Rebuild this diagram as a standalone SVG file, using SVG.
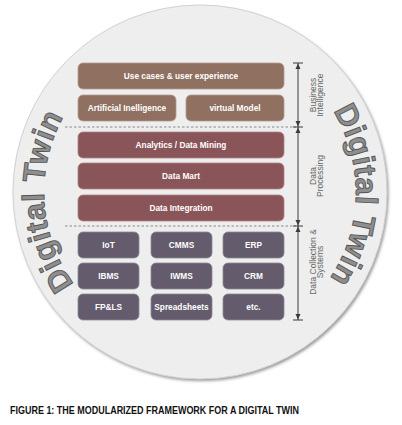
<svg xmlns="http://www.w3.org/2000/svg" width="402" height="425" viewBox="0 0 402 425">
  <defs>
    <style>
      .bi { fill: #8f7061; stroke: #b39c90; stroke-width: 0.8; }
      .dp { fill: #8a5558; stroke: #ad8486; stroke-width: 0.8; }
      .dc { fill: #645b6c; stroke: #8e8795; stroke-width: 0.8; }
      .bt { font-family: "Liberation Sans", Arial, sans-serif; font-weight: bold; font-size: 8.3px; fill: #ffffff; text-anchor: middle; }
      .side { font-family: "Liberation Sans", Arial, sans-serif; font-size: 8.5px; fill: #666666; text-anchor: middle; }
      .dt { font-family: "Liberation Sans", Arial, sans-serif; font-weight: bold; font-size: 31px; fill: #8e8e8e; stroke: #555555; stroke-width: 0.9; letter-spacing: 0.5px; }
      .dash { stroke: #8a8a8a; stroke-width: 1; stroke-dasharray: 2.5 2; fill: none; }
      .dim { stroke: #3a3a3a; stroke-width: 1; fill: none; }
      .ah { fill: #3a3a3a; }
      .cap { font-family: "Liberation Sans", Arial, sans-serif; font-weight: bold; font-size: 10.5px; fill: #111111; }
    </style>
    <filter id="sh" x="-10%" y="-10%" width="120%" height="120%">
      <feGaussianBlur stdDeviation="1.5"/>
    </filter>
    <path id="leftArc" d="M122,327.1 A156,156 0 0 1 122,56.9"/>
    <path id="rightArc" d="M278,56.9 A156,156 0 0 1 278,327.1"/>
  </defs>

  <rect width="402" height="425" fill="#ffffff"/>

  <g id="circle">
    <circle cx="201.5" cy="194" r="187" fill="#9a9a9a" filter="url(#sh)"/>
    <circle cx="200" cy="192" r="187" fill="#eeeeee" stroke="#d2d2d2" stroke-width="1"/>
  </g>

  <g id="digital-twin-left">
    <text class="dt"><textPath href="#leftArc" startOffset="47%" text-anchor="middle">Digital Twin</textPath></text>
  </g>
  <g id="digital-twin-right">
    <text class="dt"><textPath href="#rightArc" startOffset="51%" text-anchor="middle">Digital Twin</textPath></text>
  </g>

  <g id="connectors">
    <line class="dash" x1="65" y1="127" x2="296" y2="127"/>
    <line class="dash" x1="65" y1="226" x2="296" y2="226"/>
    <line class="dim" x1="298" y1="63" x2="298" y2="320"/>
    <line class="dim" x1="293" y1="63" x2="303" y2="63"/>
    <line class="dim" x1="293" y1="127" x2="303" y2="127"/>
    <line class="dim" x1="293" y1="226" x2="303" y2="226"/>
    <line class="dim" x1="293" y1="320" x2="303" y2="320"/>
    <path class="ah" d="M298,63.5 L295.5,69 L300.5,69 Z"/>
    <path class="ah" d="M298,126.5 L295.5,121 L300.5,121 Z"/>
    <path class="ah" d="M298,127.5 L295.5,133 L300.5,133 Z"/>
    <path class="ah" d="M298,225.5 L295.5,220 L300.5,220 Z"/>
    <path class="ah" d="M298,226.5 L295.5,232 L300.5,232 Z"/>
    <path class="ah" d="M298,319.5 L295.5,314 L300.5,314 Z"/>
  </g>

  <g id="label-bi">
    <text class="side" transform="translate(315.5,95) rotate(-90)">Business</text>
    <text class="side" transform="translate(323,95) rotate(-90)">Intelligence</text>
  </g>
  <g id="label-dp">
    <text class="side" transform="translate(315.5,176) rotate(-90)">Data</text>
    <text class="side" transform="translate(323,176) rotate(-90)">Processing</text>
  </g>
  <g id="label-dc">
    <text class="side" transform="translate(315.5,262) rotate(-90)">Data Collection &amp;</text>
    <text class="side" transform="translate(323,262) rotate(-90)">Systems</text>
  </g>

  <g id="use-cases">
    <rect class="bi" x="78" y="63" width="206" height="26" rx="5"/>
    <text class="bt" x="181" y="79">Use cases &amp; user experience</text>
  </g>
  <g id="ai">
    <rect class="bi" x="78" y="95" width="98" height="26" rx="5"/>
    <text class="bt" x="127" y="111">Artificial Inelligence</text>
  </g>
  <g id="virtual-model">
    <rect class="bi" x="186" y="95" width="98" height="26" rx="5"/>
    <text class="bt" x="235" y="111">virtual Model</text>
  </g>

  <g id="analytics">
    <rect class="dp" x="78" y="132" width="206" height="26" rx="5"/>
    <text class="bt" x="181" y="148">Analytics / Data Mining</text>
  </g>
  <g id="data-mart">
    <rect class="dp" x="78" y="163" width="206" height="26" rx="5"/>
    <text class="bt" x="181" y="179">Data Mart</text>
  </g>
  <g id="data-integration">
    <rect class="dp" x="78" y="195" width="206" height="26" rx="5"/>
    <text class="bt" x="181" y="211">Data Integration</text>
  </g>

  <g id="iot">
    <rect class="dc" x="78" y="232" width="61" height="26" rx="5"/>
    <text class="bt" x="108.5" y="248">IoT</text>
  </g>
  <g id="cmms">
    <rect class="dc" x="151" y="232" width="61" height="26" rx="5"/>
    <text class="bt" x="181.5" y="248">CMMS</text>
  </g>
  <g id="erp">
    <rect class="dc" x="223" y="232" width="61" height="26" rx="5"/>
    <text class="bt" x="253.5" y="248">ERP</text>
  </g>
  <g id="ibms">
    <rect class="dc" x="78" y="263" width="61" height="26" rx="5"/>
    <text class="bt" x="108.5" y="279">IBMS</text>
  </g>
  <g id="iwms">
    <rect class="dc" x="151" y="263" width="61" height="26" rx="5"/>
    <text class="bt" x="181.5" y="279">IWMS</text>
  </g>
  <g id="crm">
    <rect class="dc" x="223" y="263" width="61" height="26" rx="5"/>
    <text class="bt" x="253.5" y="279">CRM</text>
  </g>
  <g id="fpls">
    <rect class="dc" x="78" y="294" width="61" height="26" rx="5"/>
    <text class="bt" x="108.5" y="310">FP&amp;LS</text>
  </g>
  <g id="spreadsheets">
    <rect class="dc" x="151" y="294" width="61" height="26" rx="5"/>
    <text class="bt" x="181.5" y="310">Spreadsheets</text>
  </g>
  <g id="etc">
    <rect class="dc" x="223" y="294" width="61" height="26" rx="5"/>
    <text class="bt" x="253.5" y="310">etc.</text>
  </g>

  <g id="caption">
    <text class="cap" x="10" y="414" textLength="289" lengthAdjust="spacingAndGlyphs">FIGURE 1: THE MODULARIZED FRAMEWORK FOR A DIGITAL TWIN</text>
  </g>
</svg>
